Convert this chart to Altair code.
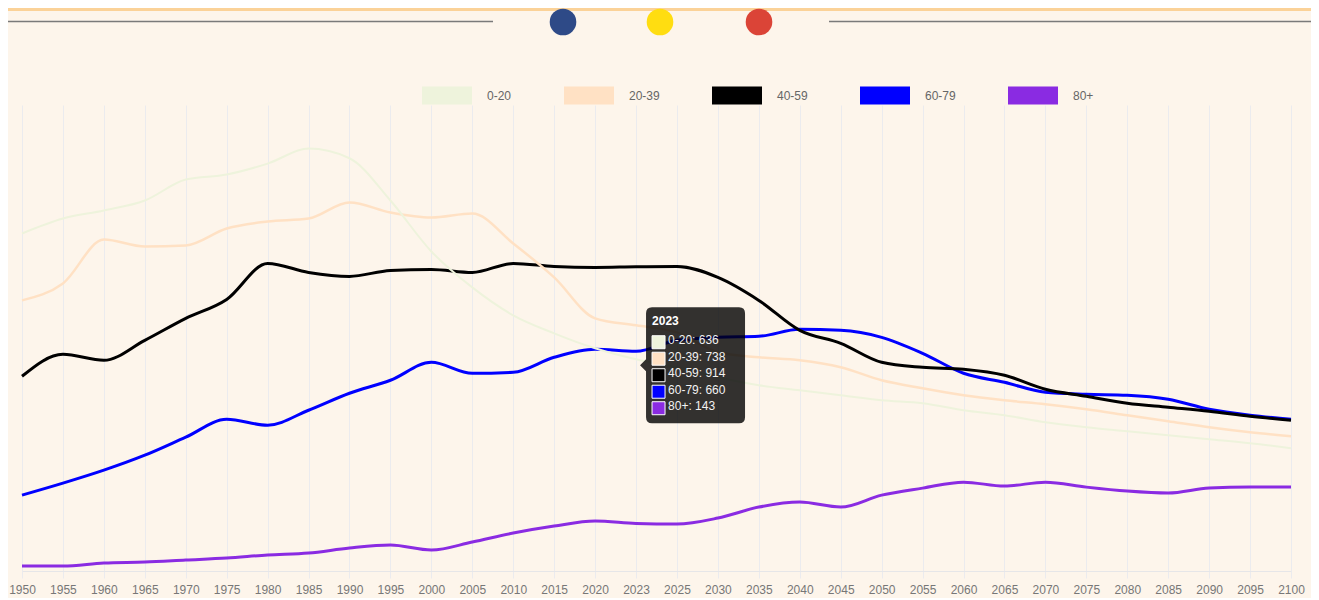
import altair as alt
import pandas as pd

# ---------------- data ----------------
YEARS = ["1950", "1955", "1960", "1965", "1970", "1975", "1980", "1985", "1990", "1995",
         "2000", "2005", "2010", "2015", "2020", "2023", "2025", "2030", "2035", "2040",
         "2045", "2050", "2055", "2060", "2065", "2070", "2075", "2080", "2085", "2090",
         "2095", "2100"]

SERIES = ["0-20", "20-39", "40-59", "60-79", "80+"]
COLORS = ["#eef3dc", "#ffe1c4", "#000000", "#0000ff", "#8a2be2"]

V_0_20 = [1014, 1059, 1083, 1113, 1176, 1191, 1224, 1269, 1240, 1113, 960, 852, 768, 714, 669,
          636, 612, 582, 558, 543, 528, 513, 504, 483, 468, 447, 432, 420, 408, 396, 384, 369]
V_20_39 = [813, 864, 996, 975, 978, 1029, 1050, 1059, 1107, 1077, 1062, 1074, 984, 882, 759,
           738, 717, 657, 642, 633, 612, 573, 549, 528, 513, 501, 486, 468, 450, 432, 417, 405]
V_40_59 = [585, 651, 633, 693, 759, 816, 924, 897, 885, 903, 906, 897, 924, 915, 912,
           914, 915, 882, 813, 723, 684, 627, 612, 606, 588, 546, 525, 504, 492, 480, 465, 453]
V_60_79 = [228, 264, 303, 348, 402, 456, 438, 483, 534, 573, 627, 594, 597, 642, 666,
           660, 693, 702, 705, 726, 723, 702, 654, 594, 567, 537, 531, 528, 516, 486, 468, 456]
V_80 = [15, 15, 24, 27, 33, 39, 48, 54, 69, 78, 63, 87, 114, 135, 150,
        143, 141, 159, 192, 207, 192, 228, 249, 267, 255, 267, 252, 240, 234, 249, 252, 252]

VALUES = [V_0_20, V_20_39, V_40_59, V_60_79, V_80]
LINE_WIDTHS = [2, 2.5, 3, 3, 3]
TIP_YEAR = "2023"

# ---------------- layout ----------------
W, H = 1269, 466
YMAX = 1400
FONT = "Liberation Sans"

rows = []
for s, vals in zip(SERIES, VALUES):
    for yr, v in zip(YEARS, vals):
        rows.append({"year": yr, "series": s, "value": v})
df = pd.DataFrame(rows)

x_enc = alt.X(
    "year:O",
    sort=YEARS,
    scale=alt.Scale(type="point", padding=0, domain=YEARS),
    axis=alt.Axis(
        title=None, labelAngle=0, labelFont=FONT, labelFontSize=12, labelColor="#777777",
        labelPadding=6, grid=True, gridColor="#ebebee", gridWidth=1,
        domainColor="#e6e6e8", tickColor="#ebebee", tickSize=7,
        labelOverlap=False, labelFlush=False,
    ),
)
y_enc = alt.Y("value:Q", scale=alt.Scale(domain=[0, YMAX], nice=False), axis=None)

legend = alt.Legend(
    orient="none", legendX=391, legendY=-43.5, direction="horizontal", title=None,
    symbolType="stroke", symbolSize=2500, symbolStrokeWidth=18, symbolOpacity=1,
    labelFont=FONT, labelFontSize=12, labelColor="#666666", labelOffset=6,
    columnPadding=16,
)
color_enc = alt.Color("series:N", scale=alt.Scale(domain=SERIES, range=COLORS), legend=legend)

layers = []

# header decorations
hdr = pd.DataFrame({"k": [0]})
layers.append(alt.Chart(hdr).mark_rect(color="#fbd298").encode(
    x=alt.value(-14), x2=alt.value(W + 20), y=alt.value(-97), y2=alt.value(-94)))
layers.append(alt.Chart(hdr).mark_rule(color="#7a7a7a", strokeWidth=1.5).encode(
    x=alt.value(-14), x2=alt.value(471), y=alt.value(-83.5)))
layers.append(alt.Chart(hdr).mark_rule(color="#7a7a7a", strokeWidth=1.5).encode(
    x=alt.value(807), x2=alt.value(W + 20), y=alt.value(-83.5)))
for cx, col in [(541, "#2e4a87"), (638, "#ffdd11"), (737, "#db4437")]:
    layers.append(alt.Chart(hdr).mark_point(shape="circle", size=707, filled=True,
                                            color=col, opacity=1).encode(
        x=alt.value(cx), y=alt.value(-83)))

# lines (first series drawn last = on top)
for s, w in reversed(list(zip(SERIES, LINE_WIDTHS))):
    layers.append(
        alt.Chart(df[df["series"] == s]).mark_line(interpolate="monotone", strokeWidth=w).encode(
            x=x_enc, y=y_enc, color=color_enc)
    )

# tooltip (anchored at the average of the hovered values)
idx = YEARS.index(TIP_YEAR)
tip_vals = [vals[idx] for vals in VALUES]
anchor = sum(tip_vals) / len(tip_vals)
body = "\n".join(f"{s}: {v}" for s, v in zip(SERIES, tip_vals))
tip_head = pd.DataFrame({"year": [TIP_YEAR], "value": [anchor], "body": [body]})

BOX_PATH = ("M0.32,-1.16L2.06,-1.16Q2.18,-1.16 2.18,-1.04L2.18,1.04Q2.18,1.16 2.06,1.16"
            "L0.32,1.16Q0.2,1.16 0.2,1.04L0.2,0.12L0.08,0L0.2,-0.12L0.2,-1.04"
            "Q0.2,-1.16 0.32,-1.16Z")
layers.append(alt.Chart(tip_head).mark_point(
    shape=BOX_PATH, size=10000, filled=True, color="#000000", fillOpacity=0.8,
    strokeOpacity=0).encode(x=x_enc, y=y_enc))

row_centers = [-23, -6.5, 10, 26.5, 43]
for c, col in zip(row_centers, COLORS):
    path = (f"M0.32,{(c - 6.5) / 50:.3f}L0.58,{(c - 6.5) / 50:.3f}"
            f"L0.58,{(c + 6.5) / 50:.3f}L0.32,{(c + 6.5) / 50:.3f}Z")
    layers.append(alt.Chart(tip_head).mark_point(
        shape=path, size=10000, filled=True, fill=col, stroke="#ffffff",
        strokeWidth=1, opacity=1).encode(x=x_enc, y=y_enc))

layers.append(alt.Chart(tip_head).mark_text(
    align="left", baseline="middle", dx=16, dy=-44, font=FONT, fontSize=12,
    fontWeight="bold", color="#ffffff").encode(x=x_enc, y=y_enc, text="year:N"))
layers.append(alt.Chart(tip_head).mark_text(
    align="left", baseline="top", dx=32, dy=-30, font=FONT, fontSize=12,
    lineBreak="\n", lineHeight=16.5, color="#f2f2f2").encode(x=x_enc, y=y_enc, text="body:N"))

chart = alt.layer(*layers).properties(
    width=W, height=H,
    autosize=alt.AutoSizeParams(type="none"),
    padding={"left": 14, "top": 97, "right": 20, "bottom": 27},
    background="#fdf5eb",
).configure_view(stroke=None)

chart.save("out.html", embed_options={"renderer": "svg", "actions": False})
